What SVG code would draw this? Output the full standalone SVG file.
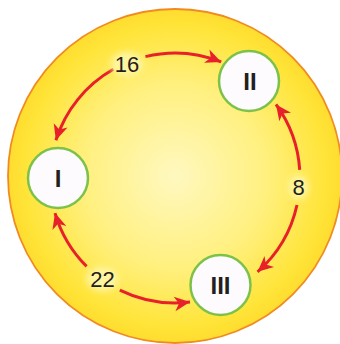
<svg xmlns="http://www.w3.org/2000/svg" width="340" height="344" viewBox="0 0 340 344">
<defs>
<radialGradient id="bg" cx="175" cy="176" r="168" gradientUnits="userSpaceOnUse">
<stop offset="0" stop-color="#fff8c0"/>
<stop offset="0.55" stop-color="#fff07e"/>
<stop offset="0.9" stop-color="#ffe438"/>
<stop offset="1" stop-color="#fedc2e"/>
</radialGradient>
<filter id="soft" x="-50%" y="-50%" width="200%" height="200%"><feGaussianBlur stdDeviation="3"/></filter>
<marker id="ah" markerUnits="userSpaceOnUse" markerWidth="20" markerHeight="20" viewBox="-16 -8 18 16" refX="0" refY="0" orient="auto">
<path d="M0,0 L-14,-6.5 L-10,0 L-14,6.5 Z" fill="#e8202a"/>
</marker>
<style>
.node{fill:#fdfbfd;stroke:#7cc24a;stroke-width:2.5}
.num{font-family:"Liberation Sans",Arial,sans-serif;font-weight:bold;font-size:24px;fill:#231f20;text-anchor:middle}
.lbl{font-family:"Liberation Sans",Arial,sans-serif;font-size:22px;fill:#231f20;text-anchor:middle}
.arc{fill:none;stroke:#e8202a;stroke-width:3;marker-end:url(#ah)}
.glow{fill:#fff5a0;filter:url(#soft)}
</style>
</defs>
<circle cx="175" cy="176" r="167" fill="url(#bg)" stroke="#f28a22" stroke-width="1.8"/>
<g id="connectors">
<path class="arc" d="M145.4,56.6 A125,125 0 0 1 221.2,61.9"/>
<path class="arc" d="M113.3,69.3 A125,125 0 0 0 55.9,140.2"/>
<path class="arc" d="M299.7,169.9 A125,125 0 0 0 276,104.4"/>
<path class="arc" d="M297,205 A125,125 0 0 1 257.6,271.8"/>
<path class="arc" d="M86.6,266.4 A125,125 0 0 1 55,213.1"/>
<path class="arc" d="M119.8,290.2 A125,125 0 0 0 190,302.1"/>
</g>
<g id="labels">
<ellipse class="glow" cx="127" cy="64" rx="16" ry="12"/>
<text class="lbl" x="127" y="72">16</text>
<ellipse class="glow" cx="298.5" cy="187" rx="10" ry="12"/>
<text class="lbl" x="298.5" y="195">8</text>
<ellipse class="glow" cx="102.5" cy="279" rx="16" ry="12"/>
<text class="lbl" x="102.5" y="287">22</text>
</g>
<g id="node-I">
<circle class="node" cx="58" cy="178" r="30"/>
<text class="num" x="58" y="187">I</text>
</g>
<g id="node-II">
<circle class="node" cx="249" cy="81" r="30"/>
<text class="num" x="250" y="90">II</text>
</g>
<g id="node-III">
<circle class="node" cx="220.5" cy="285" r="30"/>
<text class="num" x="220.5" y="294">III</text>
</g>
</svg>
